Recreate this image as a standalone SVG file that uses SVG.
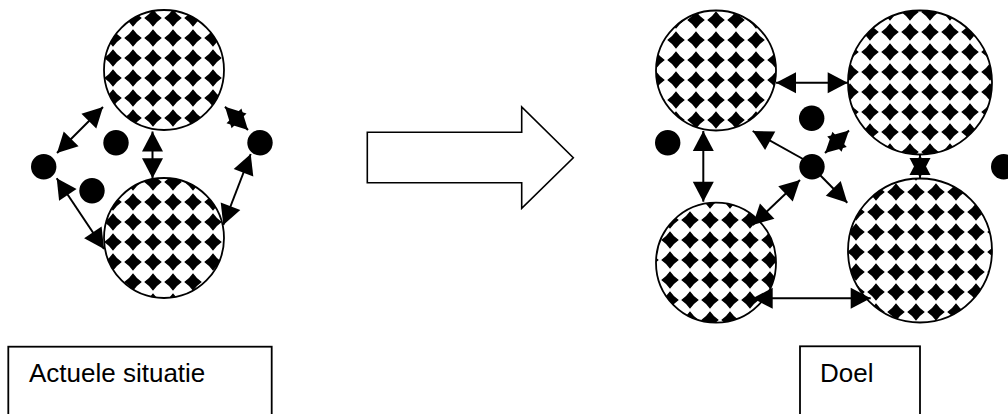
<svg xmlns="http://www.w3.org/2000/svg" width="1008" height="414" viewBox="0 0 1008 414">
<style>
.blob{stroke:none}
.ring{fill:none;stroke:#000;stroke-width:1.8}
.dot{fill:#000}
.con{stroke:#000;stroke-width:2;fill:none}
.dbl{marker-start:url(#ah);marker-end:url(#ah)}
.one{marker-end:url(#ah)}
.box{fill:#fff;stroke:#000;stroke-width:1.8}
.lbl{font-family:"Liberation Sans",Arial,sans-serif;font-size:26px;fill:#000}
.big{fill:#fff;stroke:#000;stroke-width:1.6;stroke-linejoin:miter}
</style>
<defs>
<pattern id="chk" patternUnits="userSpaceOnUse" x="3" y="8" width="20" height="20">
<rect width="20" height="20" fill="#fff"/>
<path d="M10,1.2 Q13.6,6.4 18.8,10 Q13.6,13.6 10,18.8 Q6.4,13.6 1.2,10 Q6.4,6.4 10,1.2 Z" fill="#000"/>
</pattern>
<pattern id="chk2" href="#chk" x="3" y="12"/>
<pattern id="chk3" href="#chk" x="6" y="10"/>
<pattern id="chk4" href="#chk" x="0" y="2"/>
<pattern id="chk5" href="#chk" x="0" y="10"/>
<pattern id="chk6" href="#chk" x="6" y="2"/>
<filter id="soft" x="-5%" y="-5%" width="110%" height="110%"><feGaussianBlur stdDeviation="0.75"/></filter>
<marker id="ah" markerUnits="userSpaceOnUse" markerWidth="22" markerHeight="22" refX="20" refY="10.5" orient="auto-start-reverse" overflow="visible">
<path d="M0,0 L20,10.5 L0,21 Z" fill="#000"/>
</marker>
</defs>
<rect width="1008" height="414" fill="#fff"/>

<g id="node-left-top"><circle class="blob" cx="164" cy="70" r="60" fill="url(#chk)" filter="url(#soft)"/><circle class="ring" cx="164" cy="70" r="60"/></g>
<g id="node-left-bottom"><circle class="blob" cx="164" cy="238" r="60" fill="url(#chk2)" filter="url(#soft)"/><circle class="ring" cx="164" cy="238" r="60"/></g>
<g id="node-right-tl"><circle class="blob" cx="716" cy="70.5" r="60" fill="url(#chk3)" filter="url(#soft)"/><circle class="ring" cx="716" cy="70.5" r="60"/></g>
<g id="node-right-tr"><circle class="blob" cx="920" cy="82.5" r="72" fill="url(#chk4)" filter="url(#soft)"/><circle class="ring" cx="920" cy="82.5" r="72"/></g>
<g id="node-right-bl"><circle class="blob" cx="716" cy="262.7" r="60" fill="url(#chk5)" filter="url(#soft)"/><circle class="ring" cx="716" cy="262.7" r="60"/></g>
<g id="node-right-br"><circle class="blob" cx="920" cy="250.5" r="72" fill="url(#chk6)" filter="url(#soft)"/><circle class="ring" cx="920" cy="250.5" r="72"/></g>

<g id="dot-l1"><circle class="dot" cx="43.7" cy="166.7" r="12.7"/></g>
<g id="dot-l2"><circle class="dot" cx="116" cy="142.7" r="12.7"/></g>
<g id="dot-l3"><circle class="dot" cx="92" cy="190.7" r="12.7"/></g>
<g id="dot-l4"><circle class="dot" cx="260" cy="142.7" r="12.7"/></g>
<g id="dot-r1"><circle class="dot" cx="811.7" cy="118.3" r="12.7"/></g>
<g id="dot-r2"><circle class="dot" cx="667.7" cy="142.7" r="12.7"/></g>
<g id="dot-r3"><circle class="dot" cx="812" cy="166.7" r="12.7"/></g>
<g id="dot-r4"><circle class="dot" cx="1003.7" cy="166.7" r="12.7"/></g>

<g id="connectors">
<line class="con dbl" x1="57" y1="153" x2="103" y2="107"/>
<line class="con dbl" x1="56.7" y1="178.3" x2="104" y2="249"/>
<line class="con dbl" x1="152.5" y1="131.5" x2="152.5" y2="178.3"/>
<line class="con dbl" x1="248" y1="130" x2="225" y2="106.7"/>
<line class="con dbl" x1="250.7" y1="154" x2="223.3" y2="225"/>
<line class="con dbl" x1="776" y1="82.7" x2="847.7" y2="82.7"/>
<line class="con dbl" x1="703.3" y1="131" x2="703.3" y2="201.7"/>
<line class="con dbl" x1="920" y1="155" x2="920" y2="178"/>
<line class="con one" x1="803" y1="159" x2="752.7" y2="131"/>
<line class="con one" x1="818" y1="173" x2="847.3" y2="202.7"/>
<line class="con dbl" x1="825" y1="153" x2="849" y2="130.5"/>
<line class="con dbl" x1="800" y1="180" x2="752.7" y2="225"/>
<line class="con dbl" x1="752.7" y1="298.3" x2="870.7" y2="298.3"/>
</g>

<g id="big-arrow"><polygon class="big" points="367.3,132.3 521.7,132.3 521.7,107 573.3,157.7 521.7,208.3 521.7,182.7 367.3,182.7"/></g>

<g id="label-actueel"><rect class="box" x="8.3" y="346.7" width="263.4" height="80"/><text class="lbl" x="29" y="382">Actuele situatie</text></g>
<g id="label-doel"><rect class="box" x="800" y="346.3" width="120" height="80"/><text class="lbl" x="820" y="382">Doel</text></g>
</svg>
